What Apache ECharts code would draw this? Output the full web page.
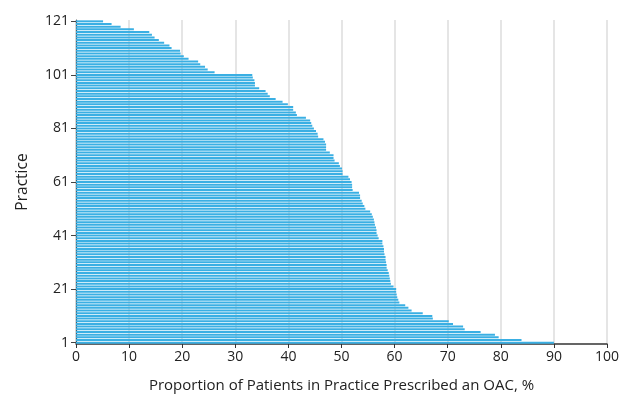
<!DOCTYPE html>
<html>
<head>
<meta charset="utf-8">
<script src="https://cdn.jsdelivr.net/npm/echarts@6/dist/echarts.min.js"></script>
<style>
    html, body { margin: 0; padding: 0; background: #fff; }
    #chart { width: 628px; height: 398px; }
</style>
</head>
<body>
<div id="chart"></div>
<script>
// share of patients prescribed an OAC, practice 1 .. 121 (sorted high to low)
var oacPercent = [
    90.0, 83.9, 79.6, 78.9, 76.2, 73.2, 72.9, 71.0, 70.2, 67.2,
    67.1, 65.3, 63.2, 62.6, 62.0, 60.9, 60.7, 60.5, 60.4, 60.3,
    60.3, 59.8, 59.3, 59.2, 59.1, 59.0, 58.9, 58.7, 58.5, 58.5,
    58.4, 58.3, 58.3, 58.1, 58.0, 58.0, 57.9, 57.7, 57.7, 57.0,
    56.8, 56.6, 56.6, 56.5, 56.3, 56.2, 56.1, 55.9, 55.7, 55.4,
    54.5, 54.3, 54.0, 53.8, 53.5, 53.5, 53.3, 52.1, 52.0, 52.0,
    51.9, 51.6, 51.3, 50.2, 50.2, 50.1, 49.7, 49.5, 48.7, 48.5,
    48.5, 47.8, 47.1, 47.1, 47.1, 46.9, 46.6, 45.6, 45.5, 45.2,
    44.8, 44.5, 44.3, 44.1, 43.3, 41.6, 41.4, 40.9, 40.9, 39.9,
    38.9, 37.6, 36.5, 36.1, 35.7, 34.5, 33.7, 33.7, 33.6, 33.3,
    33.2, 26.1, 24.8, 24.3, 23.4, 23.0, 21.2, 20.3, 19.7, 19.6,
    18.0, 17.6, 16.6, 15.6, 14.8, 14.3, 13.8, 10.9, 8.4, 6.7,
    5.1
];
var yTickLabels = ['1', '21', '41', '61', '81', '101', '121'];
var xTicks = [0, 10, 20, 30, 40, 50, 60, 70, 80, 90, 100];

var practices = [];
for (var i = 0; i < oacPercent.length; i++) {
    practices.push(String(i + 1));
}

var font = '"Open Sans", "Noto Sans", sans-serif';
var myChart = echarts.init(document.getElementById('chart'));

var option = {
    animation: false,
    grid: {left: 76, right: 21, top: 20, bottom: 51},
    xAxis: {
        type: 'value',
        min: xTicks[0],
        max: xTicks[xTicks.length - 1],
        interval: 10,
        name: 'Proportion of Patients in Practice Prescribed an OAC, %',
        nameLocation: 'middle',
        nameGap: 34,
        nameTextStyle: {fontFamily: font, fontSize: 15, color: '#222'},
        axisLine: {show: true, lineStyle: {color: '#333', width: 1.5}},
        axisTick: {show: true, length: 4, lineStyle: {color: '#333'}},
        axisLabel: {fontFamily: font, fontSize: 14, color: '#222', margin: 6},
        splitLine: {show: true, lineStyle: {color: '#dcdcdc', width: 1.5}}
    },
    yAxis: {
        type: 'category',
        data: practices,
        boundaryGap: true,
        name: 'Practice',
        nameLocation: 'middle',
        nameGap: 45,
        nameRotate: 90,
        nameTextStyle: {fontFamily: font, fontSize: 15.5, color: '#222'},
        axisLine: {show: true, lineStyle: {color: '#444', width: 1.2}},
        axisTick: {show: true, length: 5, interval: 19, alignWithLabel: true, lineStyle: {color: '#444'}},
        axisLabel: {
            fontFamily: font, fontSize: 14, color: '#222', margin: 7,
            interval: 19,
            formatter: function (v) {
                return yTickLabels.indexOf(v) >= 0 ? v : '';
            }
        },
        splitLine: {show: false}
    },
    series: [
        {
            type: 'bar',
            data: oacPercent,
            barWidth: 2,
            itemStyle: {color: '#3aafe3'}
        }
    ]
};

myChart.setOption(option);
</script>
</body>
</html>
